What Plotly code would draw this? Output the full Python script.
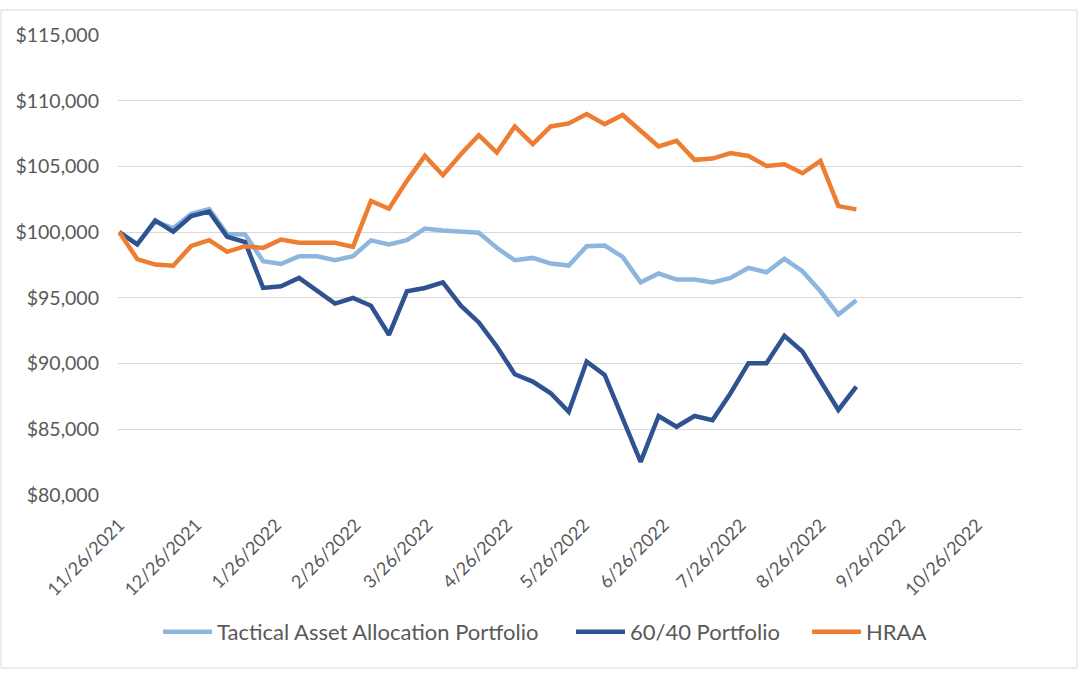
import pandas as pd
import plotly.graph_objects as go

# weekly observation dates
dates = pd.date_range("2021-11-26", periods=42, freq="7D")

tactical = [100000, 99100, 100800, 100300, 101400, 101750, 99850, 99830, 97790, 97580,
            98170, 98170, 97860, 98170, 99370, 99060, 99390, 100270, 100130, 100000,
            99950, 98810, 97860, 98040, 97610, 97460, 98930, 98980, 98120, 96180,
            96850, 96390, 96390, 96180, 96510, 97280, 96950, 97970, 97030, 95500,
            93720, 94810]

sixty_forty = [100000, 99060, 100890, 100030, 101220, 101560, 99650, 99240, 95760, 95880,
               96520, 95500, 94560, 94990, 94400, 92190, 95500, 95750, 96180, 94400,
               93130, 91300, 89190, 88630, 87740, 86330, 90150, 89140, 85900, 82520,
               86010, 85190, 86010, 85700, 87740, 90030, 90030, 92110, 90920, 88760,
               86470, 88240]

hraa = [100000, 97950, 97530, 97450, 98950, 99390, 98500, 98930, 98800, 99440,
        99190, 99190, 99190, 98880, 102370, 101780, 103900, 105800, 104330, 105930,
        107380, 106060, 108040, 106700, 108040, 108270, 108990, 108220, 108910, 107710,
        106520, 106950, 105500, 105600, 106010, 105800, 105040, 105170, 104480, 105420,
        101980, 101730]

tick_dates = ["2021-11-26", "2021-12-26", "2022-01-26", "2022-02-26", "2022-03-26",
              "2022-04-26", "2022-05-26", "2022-06-26", "2022-07-26", "2022-08-26",
              "2022-09-26", "2022-10-26"]
tick_labels = ["11/26/2021", "12/26/2021", "1/26/2022", "2/26/2022", "3/26/2022",
               "4/26/2022", "5/26/2022", "6/26/2022", "7/26/2022", "8/26/2022",
               "9/26/2022", "10/26/2022"]
y_ticks = [80000, 85000, 90000, 95000, 100000, 105000, 110000, 115000]
y_labels = ["$80,000", "$85,000", "$90,000", "$95,000", "$100,000", "$105,000",
            "$110,000", "$115,000"]

series_names = ["Tactical Asset Allocation Portfolio", "60/40 Portfolio", "HRAA"]
series_colors = ["#8DB6DF", "#2F5290", "#ED7D31"]

W, H = 1080, 675
L, R, T, B = 118, 58, 35, 180
pw, ph = W - L - R, H - T - B

def px_x(px):
    return (px - L) / pw

def px_y(py):
    return (H - B - py) / ph

font_family = "Lato, Carlito, Calibri, sans-serif"
item_w = 49
legend_text_px = [223, 636, 872]

fig = go.Figure()
for i, (vals, name, col) in enumerate(zip([tactical, sixty_forty, hraa], series_names, series_colors)):
    fig.add_trace(go.Scatter(x=dates, y=vals, mode="lines", name=name,
                             line=dict(color=col, width=4.5),
                             legend="legend" if i == 0 else f"legend{i+1}"))

legend_common = dict(orientation="h", yanchor="middle", y=px_y(632), xanchor="left",
                     font=dict(family=font_family, size=22, color="#595959"),
                     itemwidth=item_w, bgcolor="rgba(0,0,0,0)")

def leg_x(text_px):
    return px_x(text_px - 46 - (item_w - 30))

fig.update_layout(
    width=W, height=H,
    margin=dict(l=L, r=R, t=T, b=B),
    paper_bgcolor="white", plot_bgcolor="white",
    font=dict(family=font_family, size=19, color="#595959"),
    showlegend=True,
    legend=dict(x=leg_x(legend_text_px[0]), **legend_common),
    legend2=dict(x=leg_x(legend_text_px[1]), **legend_common),
    legend3=dict(x=leg_x(legend_text_px[2]), **legend_common),
    xaxis=dict(range=["2021-11-25 12:00", "2022-11-12 12:00"],
               tickmode="array", tickvals=tick_dates, ticktext=tick_labels,
               tickangle=-45, showgrid=False, zeroline=False, showline=False,
               ticks="", ticklabelstandoff=15,
               tickfont=dict(family=font_family, size=18, color="#595959")),
    yaxis=dict(range=[80000, 115000], tickmode="array", tickvals=y_ticks, ticktext=y_labels,
               showgrid=True, gridcolor="#D9D9D9", gridwidth=1, zeroline=False,
               showline=False, ticks="", ticklabelstandoff=18,
               tickfont=dict(family=font_family, size=19.5, color="#595959")),
    shapes=[dict(type="rect", xref="paper", yref="paper",
                 x0=px_x(1), x1=px_x(1077), y0=px_y(668), y1=px_y(10),
                 line=dict(color="#D9D9D9", width=1), layer="below")],
)

fig.write_html("out.html", config={"displayModeBar": False},
               post_script="document.body.style.margin='0';")
